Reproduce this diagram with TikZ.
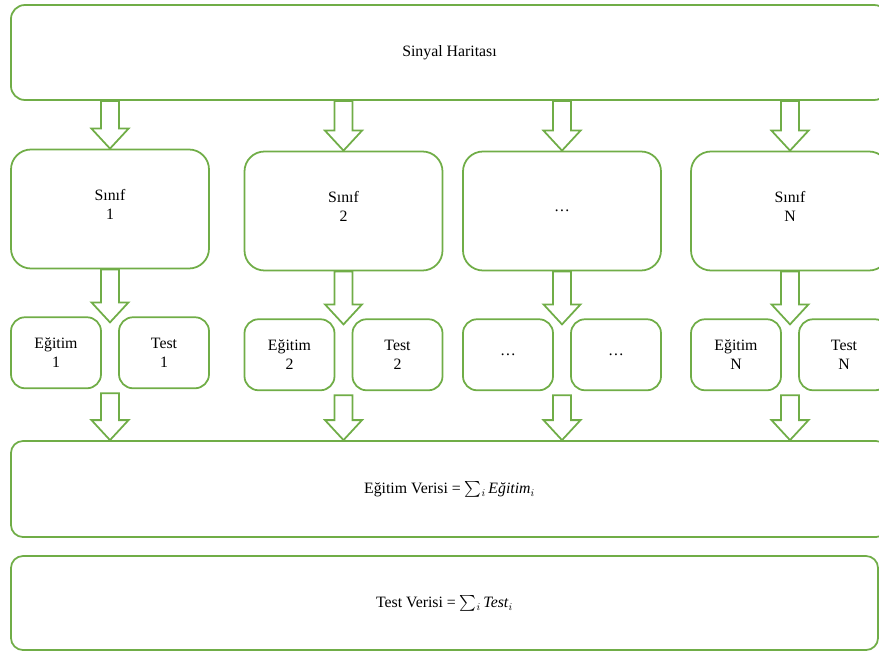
\documentclass[tikz,border=0pt]{standalone}
\usepackage{fontspec}
\setmainfont{Liberation Serif}
\usepackage{graphicx}
\usepackage{tikz}
\usepackage{xcolor}
\usetikzlibrary{positioning, calc}
\definecolor{boxgreen}{RGB}{112,173,71}
\newcommand{\bigsum}{\raisebox{-0.15ex}{\scalebox{1.35}{$\sum$}}$_i$}

\begin{document}
\begin{tikzpicture}[
		x=0.03cm, y=-0.03cm,
		font=\fontsize{13.5}{16}\selectfont,
		box/.style={draw=boxgreen, line width=1.5pt, align=center, inner sep=2pt},
		widebox/.style={box, rounded corners=0.42cm, minimum height=2.85cm},
		classbox/.style={box, rounded corners=0.6cm, minimum width=5.94cm, minimum height=3.57cm},
		subbox/.style={box, rounded corners=0.42cm, minimum width=2.7cm, minimum height=2.13cm},
		blockarrow/.style={draw=boxgreen, line width=1.5pt, fill=white, line join=miter,
			to path={let \p1=(\tikztostart), \p2=(\tikztotarget) in
				(\x1-0.27cm,\y1) -- (\x1-0.27cm,\y2+0.6cm) -- (\x1-0.555cm,\y2+0.6cm)
				-- (\x1,\y2) -- (\x1+0.555cm,\y2+0.6cm) -- (\x1+0.27cm,\y2+0.6cm)
				-- (\x1+0.27cm,\y1) -- cycle}}
	]
		\clip (0,0) rectangle (879,653);

		\node[widebox, minimum width=26.31cm] (map) at (449.5,52.5) {Sinyal Haritası};

		\node[classbox] (c1) at (110,209) {Sınıf\\1\\[-0.3cm]};
		\node[classbox] (c2) at (343.5,211) {Sınıf\\2\\[-0.3cm]};
		\node[classbox] (c3) at (562,211) {\ldots};
		\node[classbox] (c4) at (790,211) {Sınıf\\N\\[-0.3cm]};

		\node[subbox, below right=1.41cm and 0cm of c1.south west] (e1) {Eğitim\\1};
		\node[subbox, below left=1.41cm and 0cm of c1.south east] (t1) {Test\\1};
		\node[subbox, below right=1.41cm and 0cm of c2.south west] (e2) {Eğitim\\2};
		\node[subbox, below left=1.41cm and 0cm of c2.south east] (t2) {Test\\2};
		\node[subbox, below right=1.41cm and 0cm of c3.south west] (e3) {\ldots};
		\node[subbox, below left=1.41cm and 0cm of c3.south east] (t3) {\ldots};
		\node[subbox, below right=1.41cm and 0cm of c4.south west] (e4) {Eğitim\\N};
		\node[subbox, below left=1.41cm and 0cm of c4.south east] (t4) {Test\\N};

		\node[widebox, minimum width=26.31cm, minimum height=2.88cm, rounded corners=0.36cm] (train) at (449.5,489)
			{Eğitim Verisi = \bigsum\,\textit{Eğitim}$_i$};
		\node[widebox, minimum width=26.01cm, minimum height=2.82cm, rounded corners=0.36cm] (testd) at (444.5,603)
			{Test Verisi = \bigsum\,\textit{Test}$_i$};

		% block arrows between the rows
		\foreach \c in {1,...,4} {
			\coordinate (m\c) at ([yshift=-0.18cm]c\c.south |- e\c.north);
			\coordinate (s\c) at ([yshift=-0.12cm]c\c.south |- e\c.south);
			\draw[blockarrow] (map.south -| c\c.north) to (c\c.north);
			\draw[blockarrow] (c\c.south) to (m\c);
			\draw[blockarrow] (s\c) to (train.north -| s\c);
		}
	\end{tikzpicture}
\end{document}
